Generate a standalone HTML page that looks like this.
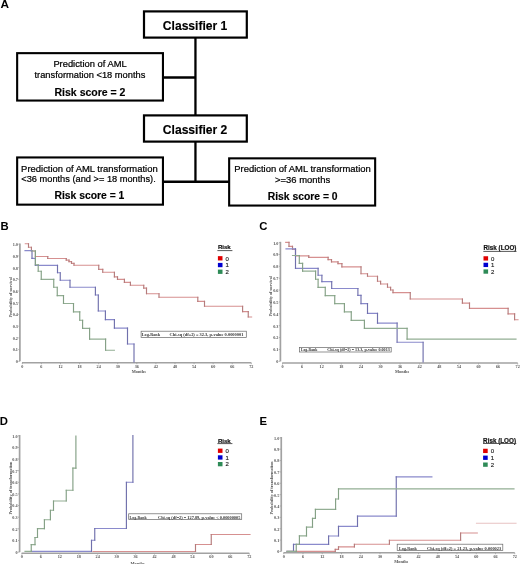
<!DOCTYPE html>
<html><head><meta charset="utf-8"><title>Figure</title>
<style>
html,body{margin:0;padding:0;background:#fff;}
body{width:520px;height:564px;overflow:hidden;}
svg{display:block;will-change:transform;filter:blur(0.3px);}
</style></head>
<body>
<svg width="520" height="564" viewBox="0 0 520 564">
<rect x="0" y="0" width="520" height="564" fill="#fff"/>
<text x="0.5" y="8.4" font-family='"Liberation Sans", sans-serif' font-size="11.8" font-weight="bold" text-anchor="start" fill="#000" >A</text>
<rect x="144.00" y="11.40" width="102.80" height="26.20" fill="none" stroke="#000" stroke-width="2.2"/>
<text x="195.1" y="29.6" font-family='"Liberation Sans", sans-serif' font-size="12.1" font-weight="bold" text-anchor="middle" fill="#000" stroke="#000" stroke-width="0.15">Classifier 1</text>
<line x1="195.45" y1="38.0" x2="195.45" y2="115.0" stroke="#000" stroke-width="2.3"/>
<rect x="17.15" y="53.15" width="145.80" height="47.40" fill="none" stroke="#000" stroke-width="2.1"/>
<line x1="163.0" y1="77.5" x2="195.45" y2="77.5" stroke="#000" stroke-width="2.3"/>
<text x="90.0" y="67.1" font-family='"Liberation Sans", sans-serif' font-size="9.35" font-weight="normal" text-anchor="middle" fill="#000" stroke="#000" stroke-width="0.22">Prediction of AML</text>
<text x="89.9" y="78.2" font-family='"Liberation Sans", sans-serif' font-size="9.3" font-weight="normal" text-anchor="middle" fill="#000" stroke="#000" stroke-width="0.22">transformation &lt;18 months</text>
<text x="90.0" y="95.6" font-family='"Liberation Sans", sans-serif' font-size="10.5" font-weight="bold" text-anchor="middle" fill="#000" stroke="#000" stroke-width="0.15">Risk score = 2</text>
<rect x="144.00" y="115.40" width="102.80" height="26.20" fill="none" stroke="#000" stroke-width="2.2"/>
<text x="195.1" y="133.6" font-family='"Liberation Sans", sans-serif' font-size="12.1" font-weight="bold" text-anchor="middle" fill="#000" stroke="#000" stroke-width="0.15">Classifier 2</text>
<line x1="195.45" y1="142.0" x2="195.45" y2="181.7" stroke="#000" stroke-width="2.3"/>
<line x1="163.0" y1="181.7" x2="229.0" y2="181.7" stroke="#000" stroke-width="2.4"/>
<rect x="17.15" y="157.45" width="145.80" height="47.20" fill="none" stroke="#000" stroke-width="2.1"/>
<text x="89.4" y="171.5" font-family='"Liberation Sans", sans-serif' font-size="9.45" font-weight="normal" text-anchor="middle" fill="#000" stroke="#000" stroke-width="0.22">Prediction of AML transformation</text>
<text x="88.5" y="182.3" font-family='"Liberation Sans", sans-serif' font-size="9.25" font-weight="normal" text-anchor="middle" fill="#000" stroke="#000" stroke-width="0.22">&lt;36 months (and &gt;= 18 months).</text>
<text x="89.4" y="199.2" font-family='"Liberation Sans", sans-serif' font-size="10.35" font-weight="bold" text-anchor="middle" fill="#000" stroke="#000" stroke-width="0.15">Risk score = 1</text>
<rect x="229.15" y="158.35" width="146.00" height="47.20" fill="none" stroke="#000" stroke-width="2.1"/>
<text x="302.5" y="172.2" font-family='"Liberation Sans", sans-serif' font-size="9.45" font-weight="normal" text-anchor="middle" fill="#000" stroke="#000" stroke-width="0.22">Prediction of AML transformation</text>
<text x="302.6" y="183.2" font-family='"Liberation Sans", sans-serif' font-size="9.45" font-weight="normal" text-anchor="middle" fill="#000" stroke="#000" stroke-width="0.22">&gt;=36 months</text>
<text x="302.7" y="199.8" font-family='"Liberation Sans", sans-serif' font-size="10.35" font-weight="bold" text-anchor="middle" fill="#000" stroke="#000" stroke-width="0.15">Risk score = 0</text>
<line x1="19.9" y1="243.39999999999998" x2="19.9" y2="361.3" stroke="#a2a2a2" stroke-width="1.7"/>
<line x1="22.0" y1="362.8" x2="251.32000000000002" y2="362.8" stroke="#a2a2a2" stroke-width="1.5"/>
<line x1="18.299999999999997" y1="361.3" x2="19.9" y2="361.3" stroke="#a2a2a2" stroke-width="0.8"/>
<text x="17.9" y="363.2" font-family='"Liberation Serif", serif' font-size="4.2" font-weight="bold" text-anchor="end" fill="#555" >0</text>
<line x1="18.299999999999997" y1="349.59000000000003" x2="19.9" y2="349.59000000000003" stroke="#a2a2a2" stroke-width="0.8"/>
<text x="17.9" y="351.49" font-family='"Liberation Serif", serif' font-size="4.2" font-weight="bold" text-anchor="end" fill="#555" >0.1</text>
<line x1="18.299999999999997" y1="337.88" x2="19.9" y2="337.88" stroke="#a2a2a2" stroke-width="0.8"/>
<text x="17.9" y="339.78" font-family='"Liberation Serif", serif' font-size="4.2" font-weight="bold" text-anchor="end" fill="#555" >0.2</text>
<line x1="18.299999999999997" y1="326.17" x2="19.9" y2="326.17" stroke="#a2a2a2" stroke-width="0.8"/>
<text x="17.9" y="328.07" font-family='"Liberation Serif", serif' font-size="4.2" font-weight="bold" text-anchor="end" fill="#555" >0.3</text>
<line x1="18.299999999999997" y1="314.46" x2="19.9" y2="314.46" stroke="#a2a2a2" stroke-width="0.8"/>
<text x="17.9" y="316.35999999999996" font-family='"Liberation Serif", serif' font-size="4.2" font-weight="bold" text-anchor="end" fill="#555" >0.4</text>
<line x1="18.299999999999997" y1="302.75" x2="19.9" y2="302.75" stroke="#a2a2a2" stroke-width="0.8"/>
<text x="17.9" y="304.65" font-family='"Liberation Serif", serif' font-size="4.2" font-weight="bold" text-anchor="end" fill="#555" >0.5</text>
<line x1="18.299999999999997" y1="291.04" x2="19.9" y2="291.04" stroke="#a2a2a2" stroke-width="0.8"/>
<text x="17.9" y="292.94" font-family='"Liberation Serif", serif' font-size="4.2" font-weight="bold" text-anchor="end" fill="#555" >0.6</text>
<line x1="18.299999999999997" y1="279.33" x2="19.9" y2="279.33" stroke="#a2a2a2" stroke-width="0.8"/>
<text x="17.9" y="281.22999999999996" font-family='"Liberation Serif", serif' font-size="4.2" font-weight="bold" text-anchor="end" fill="#555" >0.7</text>
<line x1="18.299999999999997" y1="267.62" x2="19.9" y2="267.62" stroke="#a2a2a2" stroke-width="0.8"/>
<text x="17.9" y="269.52" font-family='"Liberation Serif", serif' font-size="4.2" font-weight="bold" text-anchor="end" fill="#555" >0.8</text>
<line x1="18.299999999999997" y1="255.90999999999997" x2="19.9" y2="255.90999999999997" stroke="#a2a2a2" stroke-width="0.8"/>
<text x="17.9" y="257.80999999999995" font-family='"Liberation Serif", serif' font-size="4.2" font-weight="bold" text-anchor="end" fill="#555" >0.9</text>
<line x1="18.299999999999997" y1="244.2" x2="19.9" y2="244.2" stroke="#a2a2a2" stroke-width="0.8"/>
<text x="17.9" y="246.1" font-family='"Liberation Serif", serif' font-size="4.2" font-weight="bold" text-anchor="end" fill="#555" >1.0</text>
<line x1="22.3" y1="362.8" x2="22.3" y2="364.2" stroke="#a2a2a2" stroke-width="0.8"/>
<text x="22.3" y="367.90000000000003" font-family='"Liberation Serif", serif' font-size="4.2" font-weight="bold" text-anchor="middle" fill="#555" >0</text>
<line x1="41.385000000000005" y1="362.8" x2="41.385000000000005" y2="364.2" stroke="#a2a2a2" stroke-width="0.8"/>
<text x="41.385000000000005" y="367.90000000000003" font-family='"Liberation Serif", serif' font-size="4.2" font-weight="bold" text-anchor="middle" fill="#555" >6</text>
<line x1="60.47" y1="362.8" x2="60.47" y2="364.2" stroke="#a2a2a2" stroke-width="0.8"/>
<text x="60.47" y="367.90000000000003" font-family='"Liberation Serif", serif' font-size="4.2" font-weight="bold" text-anchor="middle" fill="#555" >12</text>
<line x1="79.555" y1="362.8" x2="79.555" y2="364.2" stroke="#a2a2a2" stroke-width="0.8"/>
<text x="79.555" y="367.90000000000003" font-family='"Liberation Serif", serif' font-size="4.2" font-weight="bold" text-anchor="middle" fill="#555" >18</text>
<line x1="98.64" y1="362.8" x2="98.64" y2="364.2" stroke="#a2a2a2" stroke-width="0.8"/>
<text x="98.64" y="367.90000000000003" font-family='"Liberation Serif", serif' font-size="4.2" font-weight="bold" text-anchor="middle" fill="#555" >24</text>
<line x1="117.72500000000001" y1="362.8" x2="117.72500000000001" y2="364.2" stroke="#a2a2a2" stroke-width="0.8"/>
<text x="117.72500000000001" y="367.90000000000003" font-family='"Liberation Serif", serif' font-size="4.2" font-weight="bold" text-anchor="middle" fill="#555" >30</text>
<line x1="136.81" y1="362.8" x2="136.81" y2="364.2" stroke="#a2a2a2" stroke-width="0.8"/>
<text x="136.81" y="367.90000000000003" font-family='"Liberation Serif", serif' font-size="4.2" font-weight="bold" text-anchor="middle" fill="#555" >36</text>
<line x1="155.895" y1="362.8" x2="155.895" y2="364.2" stroke="#a2a2a2" stroke-width="0.8"/>
<text x="155.895" y="367.90000000000003" font-family='"Liberation Serif", serif' font-size="4.2" font-weight="bold" text-anchor="middle" fill="#555" >42</text>
<line x1="174.98000000000002" y1="362.8" x2="174.98000000000002" y2="364.2" stroke="#a2a2a2" stroke-width="0.8"/>
<text x="174.98000000000002" y="367.90000000000003" font-family='"Liberation Serif", serif' font-size="4.2" font-weight="bold" text-anchor="middle" fill="#555" >48</text>
<line x1="194.06500000000003" y1="362.8" x2="194.06500000000003" y2="364.2" stroke="#a2a2a2" stroke-width="0.8"/>
<text x="194.06500000000003" y="367.90000000000003" font-family='"Liberation Serif", serif' font-size="4.2" font-weight="bold" text-anchor="middle" fill="#555" >54</text>
<line x1="213.15000000000003" y1="362.8" x2="213.15000000000003" y2="364.2" stroke="#a2a2a2" stroke-width="0.8"/>
<text x="213.15000000000003" y="367.90000000000003" font-family='"Liberation Serif", serif' font-size="4.2" font-weight="bold" text-anchor="middle" fill="#555" >60</text>
<line x1="232.235" y1="362.8" x2="232.235" y2="364.2" stroke="#a2a2a2" stroke-width="0.8"/>
<text x="232.235" y="367.90000000000003" font-family='"Liberation Serif", serif' font-size="4.2" font-weight="bold" text-anchor="middle" fill="#555" >66</text>
<line x1="251.32000000000002" y1="362.8" x2="251.32000000000002" y2="364.2" stroke="#a2a2a2" stroke-width="0.8"/>
<text x="251.32000000000002" y="367.90000000000003" font-family='"Liberation Serif", serif' font-size="4.2" font-weight="bold" text-anchor="middle" fill="#555" >72</text>
<text x="138.81" y="373.0" font-family='"Liberation Serif", serif' font-size="4.3" font-weight="bold" text-anchor="middle" fill="#555" >Months</text>
<text x="0" y="0" transform="translate(11.8,297.2) rotate(-90)" font-family='"Liberation Serif", serif' font-size="4.2" font-weight="bold" text-anchor="middle" fill="#555">Probability of survival</text>
<text x="217.9" y="249.2" font-family='"Liberation Sans", sans-serif' font-size="6.1" font-weight="bold" text-anchor="start" fill="#111" stroke="#111" stroke-width="0.18">Risk</text>
<line x1="217.4" y1="250.6" x2="232.4" y2="250.6" stroke="#444" stroke-width="0.9"/>
<rect x="217.9" y="256.15" width="4.6" height="4.3" fill="#e00000"/>
<text x="225.5" y="260.54999999999995" font-family='"Liberation Sans", sans-serif' font-size="6.0" font-weight="normal" text-anchor="start" fill="#222" stroke="#222" stroke-width="0.15">0</text>
<rect x="217.9" y="262.9" width="4.6" height="4.3" fill="#0000d0"/>
<text x="225.5" y="267.29999999999995" font-family='"Liberation Sans", sans-serif' font-size="6.0" font-weight="normal" text-anchor="start" fill="#222" stroke="#222" stroke-width="0.15">1</text>
<rect x="217.9" y="269.6" width="4.6" height="4.3" fill="#2e8b57"/>
<text x="225.5" y="274.0" font-family='"Liberation Sans", sans-serif' font-size="6.0" font-weight="normal" text-anchor="start" fill="#222" stroke="#222" stroke-width="0.15">2</text>
<rect x="141.1" y="331.2" width="105.20" height="6.20" fill="#fff" stroke="#666" stroke-width="0.7"/>
<text x="141.8" y="336.4" font-family='"Liberation Serif", serif' font-size="5.0" font-weight="bold" text-anchor="start" fill="#333" textLength="18.20" lengthAdjust="spacingAndGlyphs">Log-Rank</text>
<text x="169.6" y="336.4" font-family='"Liberation Serif", serif' font-size="5.0" font-weight="bold" text-anchor="start" fill="#333" textLength="73.80" lengthAdjust="spacingAndGlyphs">Chi-sq (df=2) = 32.3, p-value 0.0000001</text>
<text x="0.4" y="229.8" font-family='"Liberation Sans", sans-serif' font-size="11.3" font-weight="bold" text-anchor="start" fill="#000" >B</text>
<path d="M25.30 243.70H28.50 M28.50 247.20H31.40 M31.40 251.00H35.40 M35.40 256.50H47.75 M47.75 258.50H66.25 M66.25 260.10H69.00 M69.00 261.60H71.50 M71.50 263.30H74.00 M74.00 265.25H98.75 M98.75 269.40H102.75 M102.75 272.25H114.40 M114.40 276.90H117.50 M117.50 279.40H124.40 M124.40 282.40H130.40 M130.40 285.25H143.75 M143.75 288.10H146.50 M146.50 293.75H159.00 M159.00 297.25H197.80 M197.80 301.30H204.50 M204.50 306.25H242.60 M242.60 311.60H248.25 M248.25 317.00H251.60" fill="none" stroke="#d69090" stroke-width="1.15" stroke-opacity="1" stroke-linecap="square"/>
<path d="M28.50 243.70V247.20 M31.40 247.20V251.00 M35.40 251.00V256.50 M47.75 256.50V258.50 M66.25 258.50V260.10 M69.00 260.10V261.60 M71.50 261.60V263.30 M74.00 263.30V265.25 M98.75 265.25V269.40 M102.75 269.40V272.25 M114.40 272.25V276.90 M117.50 276.90V279.40 M124.40 279.40V282.40 M130.40 282.40V285.25 M143.75 285.25V288.10 M146.50 288.10V293.75 M159.00 293.75V297.25 M197.80 297.25V301.30 M204.50 301.30V306.25 M242.60 306.25V311.60 M248.25 311.60V317.00" fill="none" stroke="#b47c7c" stroke-width="1.15" stroke-opacity="1" stroke-linecap="square"/>
<path d="M25.00 250.60H32.00 M32.00 258.35H35.40 M35.40 265.30H57.50 M57.50 272.75H60.25 M60.25 280.25H70.00 M70.00 287.25H95.40 M95.40 295.00H98.30 M98.30 311.00H105.40 M105.40 319.60H114.40 M114.40 328.10H127.50 M127.50 344.00H134.00" fill="none" stroke="#8a8acc" stroke-width="1.15" stroke-opacity="1" stroke-linecap="square"/>
<path d="M32.00 250.60V258.35 M35.40 258.35V265.30 M57.50 265.30V272.75 M60.25 272.75V280.25 M70.00 280.25V287.25 M95.40 287.25V295.00 M98.30 295.00V311.00 M105.40 311.00V319.60 M114.40 319.60V328.10 M127.50 328.10V344.00 M134.00 344.00V362.00" fill="none" stroke="#7070ac" stroke-width="1.15" stroke-opacity="1" stroke-linecap="square"/>
<path d="M31.40 251.00H35.40 M35.40 264.70H38.20 M38.20 271.25H41.25 M41.25 279.40H53.75 M53.75 287.25H57.25 M57.25 295.60H63.50 M63.50 303.50H73.50 M73.50 311.90H79.75 M79.75 320.25H82.60 M82.60 328.30H89.60 M89.60 339.10H105.60 M105.60 350.25H114.40" fill="none" stroke="#93ae94" stroke-width="1.15" stroke-opacity="1" stroke-linecap="square"/>
<path d="M35.40 251.00V264.70 M38.20 264.70V271.25 M41.25 271.25V279.40 M53.75 279.40V287.25 M57.25 287.25V295.60 M63.50 295.60V303.50 M73.50 303.50V311.90 M79.75 311.90V320.25 M82.60 320.25V328.30 M89.60 328.30V339.10 M105.60 339.10V350.25" fill="none" stroke="#84a085" stroke-width="1.15" stroke-opacity="1" stroke-linecap="square"/>
<line x1="280.4" y1="241.79999999999998" x2="280.4" y2="361.3" stroke="#a2a2a2" stroke-width="1.7"/>
<line x1="282.2" y1="363.1" x2="517.7" y2="363.1" stroke="#a2a2a2" stroke-width="1.5"/>
<line x1="278.79999999999995" y1="361.3" x2="280.4" y2="361.3" stroke="#a2a2a2" stroke-width="0.8"/>
<text x="278.4" y="363.2" font-family='"Liberation Serif", serif' font-size="4.2" font-weight="bold" text-anchor="end" fill="#555" >0</text>
<line x1="278.79999999999995" y1="349.43" x2="280.4" y2="349.43" stroke="#a2a2a2" stroke-width="0.8"/>
<text x="278.4" y="351.33" font-family='"Liberation Serif", serif' font-size="4.2" font-weight="bold" text-anchor="end" fill="#555" >0.1</text>
<line x1="278.79999999999995" y1="337.56" x2="280.4" y2="337.56" stroke="#a2a2a2" stroke-width="0.8"/>
<text x="278.4" y="339.46" font-family='"Liberation Serif", serif' font-size="4.2" font-weight="bold" text-anchor="end" fill="#555" >0.2</text>
<line x1="278.79999999999995" y1="325.69" x2="280.4" y2="325.69" stroke="#a2a2a2" stroke-width="0.8"/>
<text x="278.4" y="327.59" font-family='"Liberation Serif", serif' font-size="4.2" font-weight="bold" text-anchor="end" fill="#555" >0.3</text>
<line x1="278.79999999999995" y1="313.82" x2="280.4" y2="313.82" stroke="#a2a2a2" stroke-width="0.8"/>
<text x="278.4" y="315.71999999999997" font-family='"Liberation Serif", serif' font-size="4.2" font-weight="bold" text-anchor="end" fill="#555" >0.4</text>
<line x1="278.79999999999995" y1="301.95" x2="280.4" y2="301.95" stroke="#a2a2a2" stroke-width="0.8"/>
<text x="278.4" y="303.84999999999997" font-family='"Liberation Serif", serif' font-size="4.2" font-weight="bold" text-anchor="end" fill="#555" >0.5</text>
<line x1="278.79999999999995" y1="290.08" x2="280.4" y2="290.08" stroke="#a2a2a2" stroke-width="0.8"/>
<text x="278.4" y="291.97999999999996" font-family='"Liberation Serif", serif' font-size="4.2" font-weight="bold" text-anchor="end" fill="#555" >0.6</text>
<line x1="278.79999999999995" y1="278.21000000000004" x2="280.4" y2="278.21000000000004" stroke="#a2a2a2" stroke-width="0.8"/>
<text x="278.4" y="280.11" font-family='"Liberation Serif", serif' font-size="4.2" font-weight="bold" text-anchor="end" fill="#555" >0.7</text>
<line x1="278.79999999999995" y1="266.34" x2="280.4" y2="266.34" stroke="#a2a2a2" stroke-width="0.8"/>
<text x="278.4" y="268.23999999999995" font-family='"Liberation Serif", serif' font-size="4.2" font-weight="bold" text-anchor="end" fill="#555" >0.8</text>
<line x1="278.79999999999995" y1="254.47" x2="280.4" y2="254.47" stroke="#a2a2a2" stroke-width="0.8"/>
<text x="278.4" y="256.37" font-family='"Liberation Serif", serif' font-size="4.2" font-weight="bold" text-anchor="end" fill="#555" >0.9</text>
<line x1="278.79999999999995" y1="242.6" x2="280.4" y2="242.6" stroke="#a2a2a2" stroke-width="0.8"/>
<text x="278.4" y="244.5" font-family='"Liberation Serif", serif' font-size="4.2" font-weight="bold" text-anchor="end" fill="#555" >1.0</text>
<line x1="282.5" y1="363.1" x2="282.5" y2="364.5" stroke="#a2a2a2" stroke-width="0.8"/>
<text x="282.5" y="368.20000000000005" font-family='"Liberation Serif", serif' font-size="4.2" font-weight="bold" text-anchor="middle" fill="#555" >0</text>
<line x1="302.1" y1="363.1" x2="302.1" y2="364.5" stroke="#a2a2a2" stroke-width="0.8"/>
<text x="302.1" y="368.20000000000005" font-family='"Liberation Serif", serif' font-size="4.2" font-weight="bold" text-anchor="middle" fill="#555" >6</text>
<line x1="321.7" y1="363.1" x2="321.7" y2="364.5" stroke="#a2a2a2" stroke-width="0.8"/>
<text x="321.7" y="368.20000000000005" font-family='"Liberation Serif", serif' font-size="4.2" font-weight="bold" text-anchor="middle" fill="#555" >12</text>
<line x1="341.3" y1="363.1" x2="341.3" y2="364.5" stroke="#a2a2a2" stroke-width="0.8"/>
<text x="341.3" y="368.20000000000005" font-family='"Liberation Serif", serif' font-size="4.2" font-weight="bold" text-anchor="middle" fill="#555" >18</text>
<line x1="360.9" y1="363.1" x2="360.9" y2="364.5" stroke="#a2a2a2" stroke-width="0.8"/>
<text x="360.9" y="368.20000000000005" font-family='"Liberation Serif", serif' font-size="4.2" font-weight="bold" text-anchor="middle" fill="#555" >24</text>
<line x1="380.5" y1="363.1" x2="380.5" y2="364.5" stroke="#a2a2a2" stroke-width="0.8"/>
<text x="380.5" y="368.20000000000005" font-family='"Liberation Serif", serif' font-size="4.2" font-weight="bold" text-anchor="middle" fill="#555" >30</text>
<line x1="400.1" y1="363.1" x2="400.1" y2="364.5" stroke="#a2a2a2" stroke-width="0.8"/>
<text x="400.1" y="368.20000000000005" font-family='"Liberation Serif", serif' font-size="4.2" font-weight="bold" text-anchor="middle" fill="#555" >36</text>
<line x1="419.70000000000005" y1="363.1" x2="419.70000000000005" y2="364.5" stroke="#a2a2a2" stroke-width="0.8"/>
<text x="419.70000000000005" y="368.20000000000005" font-family='"Liberation Serif", serif' font-size="4.2" font-weight="bold" text-anchor="middle" fill="#555" >42</text>
<line x1="439.3" y1="363.1" x2="439.3" y2="364.5" stroke="#a2a2a2" stroke-width="0.8"/>
<text x="439.3" y="368.20000000000005" font-family='"Liberation Serif", serif' font-size="4.2" font-weight="bold" text-anchor="middle" fill="#555" >48</text>
<line x1="458.9" y1="363.1" x2="458.9" y2="364.5" stroke="#a2a2a2" stroke-width="0.8"/>
<text x="458.9" y="368.20000000000005" font-family='"Liberation Serif", serif' font-size="4.2" font-weight="bold" text-anchor="middle" fill="#555" >54</text>
<line x1="478.5" y1="363.1" x2="478.5" y2="364.5" stroke="#a2a2a2" stroke-width="0.8"/>
<text x="478.5" y="368.20000000000005" font-family='"Liberation Serif", serif' font-size="4.2" font-weight="bold" text-anchor="middle" fill="#555" >60</text>
<line x1="498.1" y1="363.1" x2="498.1" y2="364.5" stroke="#a2a2a2" stroke-width="0.8"/>
<text x="498.1" y="368.20000000000005" font-family='"Liberation Serif", serif' font-size="4.2" font-weight="bold" text-anchor="middle" fill="#555" >66</text>
<line x1="517.7" y1="363.1" x2="517.7" y2="364.5" stroke="#a2a2a2" stroke-width="0.8"/>
<text x="517.7" y="368.20000000000005" font-family='"Liberation Serif", serif' font-size="4.2" font-weight="bold" text-anchor="middle" fill="#555" >72</text>
<text x="402.1" y="373.0" font-family='"Liberation Serif", serif' font-size="4.3" font-weight="bold" text-anchor="middle" fill="#555" >Months</text>
<text x="0" y="0" transform="translate(272.0,296.2) rotate(-90)" font-family='"Liberation Serif", serif' font-size="4.2" font-weight="bold" text-anchor="middle" fill="#555">Probability of survival</text>
<text x="483.5" y="249.75" font-family='"Liberation Sans", sans-serif' font-size="6.3" font-weight="bold" text-anchor="start" fill="#111" stroke="#111" stroke-width="0.18">Risk (LOO)</text>
<line x1="483.3" y1="251.4" x2="516.5" y2="251.4" stroke="#444" stroke-width="0.9"/>
<rect x="483.5" y="256.25" width="4.6" height="4.3" fill="#e00000"/>
<text x="491.1" y="260.65" font-family='"Liberation Sans", sans-serif' font-size="6.0" font-weight="normal" text-anchor="start" fill="#222" stroke="#222" stroke-width="0.15">0</text>
<rect x="483.5" y="262.75" width="4.6" height="4.3" fill="#0000d0"/>
<text x="491.1" y="267.15" font-family='"Liberation Sans", sans-serif' font-size="6.0" font-weight="normal" text-anchor="start" fill="#222" stroke="#222" stroke-width="0.15">1</text>
<rect x="483.5" y="269.4" width="4.6" height="4.3" fill="#2e8b57"/>
<text x="491.1" y="273.79999999999995" font-family='"Liberation Sans", sans-serif' font-size="6.0" font-weight="normal" text-anchor="start" fill="#222" stroke="#222" stroke-width="0.15">2</text>
<rect x="299.5" y="347.5" width="91.70" height="4.50" fill="#fff" stroke="#666" stroke-width="0.7"/>
<text x="300.9" y="351.4" font-family='"Liberation Serif", serif' font-size="4.3" font-weight="bold" text-anchor="start" fill="#333" textLength="16.40" lengthAdjust="spacingAndGlyphs">Log-Rank</text>
<text x="327.2" y="351.4" font-family='"Liberation Serif", serif' font-size="4.3" font-weight="bold" text-anchor="start" fill="#333" textLength="62.60" lengthAdjust="spacingAndGlyphs">Chi-sq (df=2) = 13.3, p-value 0.0013</text>
<text x="259.3" y="229.8" font-family='"Liberation Sans", sans-serif' font-size="11.3" font-weight="bold" text-anchor="start" fill="#000" >C</text>
<path d="M285.70 242.30H289.00 M289.00 246.40H292.50 M292.50 249.40H295.50 M295.50 255.80H308.75 M308.75 257.40H328.10 M328.10 259.60H331.50 M331.50 261.90H338.00 M338.00 263.60H341.90 M341.90 266.90H361.00 M361.00 273.75H367.50 M367.50 276.25H377.50 M377.50 281.25H380.60 M380.60 284.00H387.50 M387.50 287.25H390.60 M390.60 290.00H393.00 M393.00 292.60H410.25 M410.25 299.00H462.40 M462.40 303.10H469.50 M469.50 308.30H508.10 M508.10 313.90H514.60 M514.60 319.70H518.00" fill="none" stroke="#d69090" stroke-width="1.15" stroke-opacity="1" stroke-linecap="square"/>
<path d="M289.00 242.30V246.40 M292.50 246.40V249.40 M295.50 249.40V255.80 M308.75 255.80V257.40 M328.10 257.40V259.60 M331.50 259.60V261.90 M338.00 261.90V263.60 M341.90 263.60V266.90 M361.00 266.90V273.75 M367.50 273.75V276.25 M377.50 276.25V281.25 M380.60 281.25V284.00 M387.50 284.00V287.25 M390.60 287.25V290.00 M393.00 290.00V292.60 M410.25 292.60V299.00 M462.40 299.00V303.10 M469.50 303.10V308.30 M508.10 308.30V313.90 M514.60 313.90V319.70" fill="none" stroke="#b47c7c" stroke-width="1.15" stroke-opacity="1" stroke-linecap="square"/>
<path d="M286.00 248.80H295.50 M295.50 268.40H318.10 M318.10 275.25H321.90 M321.90 281.60H331.70 M331.70 288.50H357.90 M357.90 295.40H361.00 M361.00 303.60H367.50 M367.50 313.30H377.50 M377.50 323.10H397.10 M397.10 342.25H423.10" fill="none" stroke="#8a8acc" stroke-width="1.15" stroke-opacity="1" stroke-linecap="square"/>
<path d="M295.50 248.80V268.40 M318.10 268.40V275.25 M321.90 275.25V281.60 M331.70 281.60V288.50 M357.90 288.50V295.40 M361.00 295.40V303.60 M367.50 303.60V313.30 M377.50 313.30V323.10 M397.10 323.10V342.25 M423.10 342.25V362.00" fill="none" stroke="#7070ac" stroke-width="1.15" stroke-opacity="1" stroke-linecap="square"/>
<path d="M292.50 255.50H299.30 M299.30 263.40H302.60 M302.60 271.10H315.60 M315.60 279.25H318.10 M318.10 287.30H325.25 M325.25 295.60H334.75 M334.75 303.60H344.40 M344.40 311.90H351.25 M351.25 320.40H364.40 M364.40 328.30H407.10 M407.10 339.10H516.00" fill="none" stroke="#93ae94" stroke-width="1.15" stroke-opacity="1" stroke-linecap="square"/>
<path d="M299.30 255.50V263.40 M302.60 263.40V271.10 M315.60 271.10V279.25 M318.10 279.25V287.30 M325.25 287.30V295.60 M334.75 295.60V303.60 M344.40 303.60V311.90 M351.25 311.90V320.40 M364.40 320.40V328.30 M407.10 328.30V339.10" fill="none" stroke="#84a085" stroke-width="1.15" stroke-opacity="1" stroke-linecap="square"/>
<line x1="19.6" y1="435.0" x2="19.6" y2="552.1" stroke="#a2a2a2" stroke-width="1.7"/>
<line x1="21.599999999999998" y1="553.2" x2="249.29999999999998" y2="553.2" stroke="#a2a2a2" stroke-width="1.5"/>
<line x1="18.0" y1="552.1" x2="19.6" y2="552.1" stroke="#a2a2a2" stroke-width="0.8"/>
<text x="17.6" y="554.0" font-family='"Liberation Serif", serif' font-size="4.2" font-weight="bold" text-anchor="end" fill="#555" >0</text>
<line x1="18.0" y1="540.47" x2="19.6" y2="540.47" stroke="#a2a2a2" stroke-width="0.8"/>
<text x="17.6" y="542.37" font-family='"Liberation Serif", serif' font-size="4.2" font-weight="bold" text-anchor="end" fill="#555" >0.1</text>
<line x1="18.0" y1="528.84" x2="19.6" y2="528.84" stroke="#a2a2a2" stroke-width="0.8"/>
<text x="17.6" y="530.74" font-family='"Liberation Serif", serif' font-size="4.2" font-weight="bold" text-anchor="end" fill="#555" >0.2</text>
<line x1="18.0" y1="517.21" x2="19.6" y2="517.21" stroke="#a2a2a2" stroke-width="0.8"/>
<text x="17.6" y="519.11" font-family='"Liberation Serif", serif' font-size="4.2" font-weight="bold" text-anchor="end" fill="#555" >0.3</text>
<line x1="18.0" y1="505.58000000000004" x2="19.6" y2="505.58000000000004" stroke="#a2a2a2" stroke-width="0.8"/>
<text x="17.6" y="507.48" font-family='"Liberation Serif", serif' font-size="4.2" font-weight="bold" text-anchor="end" fill="#555" >0.4</text>
<line x1="18.0" y1="493.95000000000005" x2="19.6" y2="493.95000000000005" stroke="#a2a2a2" stroke-width="0.8"/>
<text x="17.6" y="495.85" font-family='"Liberation Serif", serif' font-size="4.2" font-weight="bold" text-anchor="end" fill="#555" >0.5</text>
<line x1="18.0" y1="482.32000000000005" x2="19.6" y2="482.32000000000005" stroke="#a2a2a2" stroke-width="0.8"/>
<text x="17.6" y="484.22" font-family='"Liberation Serif", serif' font-size="4.2" font-weight="bold" text-anchor="end" fill="#555" >0.6</text>
<line x1="18.0" y1="470.69000000000005" x2="19.6" y2="470.69000000000005" stroke="#a2a2a2" stroke-width="0.8"/>
<text x="17.6" y="472.59000000000003" font-family='"Liberation Serif", serif' font-size="4.2" font-weight="bold" text-anchor="end" fill="#555" >0.7</text>
<line x1="18.0" y1="459.06" x2="19.6" y2="459.06" stroke="#a2a2a2" stroke-width="0.8"/>
<text x="17.6" y="460.96" font-family='"Liberation Serif", serif' font-size="4.2" font-weight="bold" text-anchor="end" fill="#555" >0.8</text>
<line x1="18.0" y1="447.43" x2="19.6" y2="447.43" stroke="#a2a2a2" stroke-width="0.8"/>
<text x="17.6" y="449.33" font-family='"Liberation Serif", serif' font-size="4.2" font-weight="bold" text-anchor="end" fill="#555" >0.9</text>
<line x1="18.0" y1="435.8" x2="19.6" y2="435.8" stroke="#a2a2a2" stroke-width="0.8"/>
<text x="17.6" y="437.7" font-family='"Liberation Serif", serif' font-size="4.2" font-weight="bold" text-anchor="end" fill="#555" >1.0</text>
<line x1="21.9" y1="553.2" x2="21.9" y2="554.6" stroke="#a2a2a2" stroke-width="0.8"/>
<text x="21.9" y="558.3000000000001" font-family='"Liberation Serif", serif' font-size="4.2" font-weight="bold" text-anchor="middle" fill="#555" >0</text>
<line x1="40.849999999999994" y1="553.2" x2="40.849999999999994" y2="554.6" stroke="#a2a2a2" stroke-width="0.8"/>
<text x="40.849999999999994" y="558.3000000000001" font-family='"Liberation Serif", serif' font-size="4.2" font-weight="bold" text-anchor="middle" fill="#555" >6</text>
<line x1="59.8" y1="553.2" x2="59.8" y2="554.6" stroke="#a2a2a2" stroke-width="0.8"/>
<text x="59.8" y="558.3000000000001" font-family='"Liberation Serif", serif' font-size="4.2" font-weight="bold" text-anchor="middle" fill="#555" >12</text>
<line x1="78.75" y1="553.2" x2="78.75" y2="554.6" stroke="#a2a2a2" stroke-width="0.8"/>
<text x="78.75" y="558.3000000000001" font-family='"Liberation Serif", serif' font-size="4.2" font-weight="bold" text-anchor="middle" fill="#555" >18</text>
<line x1="97.69999999999999" y1="553.2" x2="97.69999999999999" y2="554.6" stroke="#a2a2a2" stroke-width="0.8"/>
<text x="97.69999999999999" y="558.3000000000001" font-family='"Liberation Serif", serif' font-size="4.2" font-weight="bold" text-anchor="middle" fill="#555" >24</text>
<line x1="116.65" y1="553.2" x2="116.65" y2="554.6" stroke="#a2a2a2" stroke-width="0.8"/>
<text x="116.65" y="558.3000000000001" font-family='"Liberation Serif", serif' font-size="4.2" font-weight="bold" text-anchor="middle" fill="#555" >30</text>
<line x1="135.6" y1="553.2" x2="135.6" y2="554.6" stroke="#a2a2a2" stroke-width="0.8"/>
<text x="135.6" y="558.3000000000001" font-family='"Liberation Serif", serif' font-size="4.2" font-weight="bold" text-anchor="middle" fill="#555" >36</text>
<line x1="154.55" y1="553.2" x2="154.55" y2="554.6" stroke="#a2a2a2" stroke-width="0.8"/>
<text x="154.55" y="558.3000000000001" font-family='"Liberation Serif", serif' font-size="4.2" font-weight="bold" text-anchor="middle" fill="#555" >42</text>
<line x1="173.5" y1="553.2" x2="173.5" y2="554.6" stroke="#a2a2a2" stroke-width="0.8"/>
<text x="173.5" y="558.3000000000001" font-family='"Liberation Serif", serif' font-size="4.2" font-weight="bold" text-anchor="middle" fill="#555" >48</text>
<line x1="192.45" y1="553.2" x2="192.45" y2="554.6" stroke="#a2a2a2" stroke-width="0.8"/>
<text x="192.45" y="558.3000000000001" font-family='"Liberation Serif", serif' font-size="4.2" font-weight="bold" text-anchor="middle" fill="#555" >54</text>
<line x1="211.4" y1="553.2" x2="211.4" y2="554.6" stroke="#a2a2a2" stroke-width="0.8"/>
<text x="211.4" y="558.3000000000001" font-family='"Liberation Serif", serif' font-size="4.2" font-weight="bold" text-anchor="middle" fill="#555" >60</text>
<line x1="230.35" y1="553.2" x2="230.35" y2="554.6" stroke="#a2a2a2" stroke-width="0.8"/>
<text x="230.35" y="558.3000000000001" font-family='"Liberation Serif", serif' font-size="4.2" font-weight="bold" text-anchor="middle" fill="#555" >66</text>
<line x1="249.29999999999998" y1="553.2" x2="249.29999999999998" y2="554.6" stroke="#a2a2a2" stroke-width="0.8"/>
<text x="249.29999999999998" y="558.3000000000001" font-family='"Liberation Serif", serif' font-size="4.2" font-weight="bold" text-anchor="middle" fill="#555" >72</text>
<text x="137.6" y="564.6" font-family='"Liberation Serif", serif' font-size="4.3" font-weight="bold" text-anchor="middle" fill="#555" >Months</text>
<text x="0" y="0" transform="translate(11.8,488.1) rotate(-90)" font-family='"Liberation Serif", serif' font-size="4.2" font-weight="bold" text-anchor="middle" fill="#555">Probability of transformation</text>
<text x="217.9" y="442.6" font-family='"Liberation Sans", sans-serif' font-size="6.1" font-weight="bold" text-anchor="start" fill="#111" stroke="#111" stroke-width="0.18">Risk</text>
<line x1="217.4" y1="443.6" x2="232.4" y2="443.6" stroke="#444" stroke-width="0.9"/>
<rect x="217.9" y="448.6" width="4.6" height="4.3" fill="#e00000"/>
<text x="225.5" y="453.0" font-family='"Liberation Sans", sans-serif' font-size="6.0" font-weight="normal" text-anchor="start" fill="#222" stroke="#222" stroke-width="0.15">0</text>
<rect x="217.9" y="455.3" width="4.6" height="4.3" fill="#0000d0"/>
<text x="225.5" y="459.7" font-family='"Liberation Sans", sans-serif' font-size="6.0" font-weight="normal" text-anchor="start" fill="#222" stroke="#222" stroke-width="0.15">1</text>
<rect x="217.9" y="462.0" width="4.6" height="4.3" fill="#2e8b57"/>
<text x="225.5" y="466.4" font-family='"Liberation Sans", sans-serif' font-size="6.0" font-weight="normal" text-anchor="start" fill="#222" stroke="#222" stroke-width="0.15">2</text>
<rect x="128.7" y="513.8" width="113.00" height="5.80" fill="#fff" stroke="#666" stroke-width="0.7"/>
<text x="129.6" y="519.0" font-family='"Liberation Serif", serif' font-size="4.6" font-weight="bold" text-anchor="start" fill="#333" textLength="17.00" lengthAdjust="spacingAndGlyphs">Log-Rank</text>
<text x="158.0" y="519.0" font-family='"Liberation Serif", serif' font-size="4.6" font-weight="bold" text-anchor="start" fill="#333" textLength="82.30" lengthAdjust="spacingAndGlyphs">Chi-sq (df=2) = 127.89, p-value &lt; 0.00000005</text>
<text x="-0.3" y="424.8" font-family='"Liberation Sans", sans-serif' font-size="11.3" font-weight="bold" text-anchor="start" fill="#000" >D</text>
<path d="M31.25 551.30H91.50 M91.50 540.25H94.75 M94.75 528.50H126.40 M126.40 482.25H132.90" fill="none" stroke="#8a8acc" stroke-width="1.15" stroke-opacity="1" stroke-linecap="square"/>
<path d="M91.50 551.30V540.25 M94.75 540.25V528.50 M126.40 528.50V482.25 M132.90 482.25V435.60" fill="none" stroke="#7070ac" stroke-width="1.15" stroke-opacity="1" stroke-linecap="square"/>
<path d="M93.00 551.50H195.50 M195.50 544.50H211.25 M211.25 534.50H250.00" fill="none" stroke="#d69090" stroke-width="1.15" stroke-opacity="1" stroke-linecap="square"/>
<path d="M195.50 551.50V544.50 M211.25 544.50V534.50" fill="none" stroke="#b47c7c" stroke-width="1.15" stroke-opacity="1" stroke-linecap="square"/>
<path d="M25.00 551.30H31.25 M31.25 544.60H35.00 M35.00 537.50H37.50 M37.50 528.60H44.40 M44.40 519.75H50.40 M50.40 510.25H53.50 M53.50 501.00H66.25 M66.25 490.25H72.90 M72.90 468.10H75.90" fill="none" stroke="#93ae94" stroke-width="1.15" stroke-opacity="1" stroke-linecap="square"/>
<path d="M31.25 551.30V544.60 M35.00 544.60V537.50 M37.50 537.50V528.60 M44.40 528.60V519.75 M50.40 519.75V510.25 M53.50 510.25V501.00 M66.25 501.00V490.25 M72.90 490.25V468.10 M75.90 468.10V436.00" fill="none" stroke="#84a085" stroke-width="1.15" stroke-opacity="1" stroke-linecap="square"/>
<line x1="281.25" y1="437.0" x2="281.25" y2="551.5" stroke="#a2a2a2" stroke-width="1.7"/>
<line x1="283.45" y1="552.8" x2="514.75" y2="552.8" stroke="#a2a2a2" stroke-width="1.5"/>
<line x1="279.65" y1="551.5" x2="281.25" y2="551.5" stroke="#a2a2a2" stroke-width="0.8"/>
<text x="279.25" y="553.4" font-family='"Liberation Serif", serif' font-size="4.2" font-weight="bold" text-anchor="end" fill="#555" >0</text>
<line x1="279.65" y1="540.13" x2="281.25" y2="540.13" stroke="#a2a2a2" stroke-width="0.8"/>
<text x="279.25" y="542.03" font-family='"Liberation Serif", serif' font-size="4.2" font-weight="bold" text-anchor="end" fill="#555" >0.1</text>
<line x1="279.65" y1="528.76" x2="281.25" y2="528.76" stroke="#a2a2a2" stroke-width="0.8"/>
<text x="279.25" y="530.66" font-family='"Liberation Serif", serif' font-size="4.2" font-weight="bold" text-anchor="end" fill="#555" >0.2</text>
<line x1="279.65" y1="517.39" x2="281.25" y2="517.39" stroke="#a2a2a2" stroke-width="0.8"/>
<text x="279.25" y="519.29" font-family='"Liberation Serif", serif' font-size="4.2" font-weight="bold" text-anchor="end" fill="#555" >0.3</text>
<line x1="279.65" y1="506.02" x2="281.25" y2="506.02" stroke="#a2a2a2" stroke-width="0.8"/>
<text x="279.25" y="507.91999999999996" font-family='"Liberation Serif", serif' font-size="4.2" font-weight="bold" text-anchor="end" fill="#555" >0.4</text>
<line x1="279.65" y1="494.65" x2="281.25" y2="494.65" stroke="#a2a2a2" stroke-width="0.8"/>
<text x="279.25" y="496.54999999999995" font-family='"Liberation Serif", serif' font-size="4.2" font-weight="bold" text-anchor="end" fill="#555" >0.5</text>
<line x1="279.65" y1="483.28000000000003" x2="281.25" y2="483.28000000000003" stroke="#a2a2a2" stroke-width="0.8"/>
<text x="279.25" y="485.18" font-family='"Liberation Serif", serif' font-size="4.2" font-weight="bold" text-anchor="end" fill="#555" >0.6</text>
<line x1="279.65" y1="471.91" x2="281.25" y2="471.91" stroke="#a2a2a2" stroke-width="0.8"/>
<text x="279.25" y="473.81" font-family='"Liberation Serif", serif' font-size="4.2" font-weight="bold" text-anchor="end" fill="#555" >0.7</text>
<line x1="279.65" y1="460.54" x2="281.25" y2="460.54" stroke="#a2a2a2" stroke-width="0.8"/>
<text x="279.25" y="462.44" font-family='"Liberation Serif", serif' font-size="4.2" font-weight="bold" text-anchor="end" fill="#555" >0.8</text>
<line x1="279.65" y1="449.17" x2="281.25" y2="449.17" stroke="#a2a2a2" stroke-width="0.8"/>
<text x="279.25" y="451.07" font-family='"Liberation Serif", serif' font-size="4.2" font-weight="bold" text-anchor="end" fill="#555" >0.9</text>
<line x1="279.65" y1="437.8" x2="281.25" y2="437.8" stroke="#a2a2a2" stroke-width="0.8"/>
<text x="279.25" y="439.7" font-family='"Liberation Serif", serif' font-size="4.2" font-weight="bold" text-anchor="end" fill="#555" >1.0</text>
<line x1="283.75" y1="552.8" x2="283.75" y2="554.1999999999999" stroke="#a2a2a2" stroke-width="0.8"/>
<text x="283.75" y="557.9" font-family='"Liberation Serif", serif' font-size="4.2" font-weight="bold" text-anchor="middle" fill="#555" >0</text>
<line x1="303.0" y1="552.8" x2="303.0" y2="554.1999999999999" stroke="#a2a2a2" stroke-width="0.8"/>
<text x="303.0" y="557.9" font-family='"Liberation Serif", serif' font-size="4.2" font-weight="bold" text-anchor="middle" fill="#555" >6</text>
<line x1="322.25" y1="552.8" x2="322.25" y2="554.1999999999999" stroke="#a2a2a2" stroke-width="0.8"/>
<text x="322.25" y="557.9" font-family='"Liberation Serif", serif' font-size="4.2" font-weight="bold" text-anchor="middle" fill="#555" >12</text>
<line x1="341.5" y1="552.8" x2="341.5" y2="554.1999999999999" stroke="#a2a2a2" stroke-width="0.8"/>
<text x="341.5" y="557.9" font-family='"Liberation Serif", serif' font-size="4.2" font-weight="bold" text-anchor="middle" fill="#555" >18</text>
<line x1="360.75" y1="552.8" x2="360.75" y2="554.1999999999999" stroke="#a2a2a2" stroke-width="0.8"/>
<text x="360.75" y="557.9" font-family='"Liberation Serif", serif' font-size="4.2" font-weight="bold" text-anchor="middle" fill="#555" >24</text>
<line x1="380.0" y1="552.8" x2="380.0" y2="554.1999999999999" stroke="#a2a2a2" stroke-width="0.8"/>
<text x="380.0" y="557.9" font-family='"Liberation Serif", serif' font-size="4.2" font-weight="bold" text-anchor="middle" fill="#555" >30</text>
<line x1="399.25" y1="552.8" x2="399.25" y2="554.1999999999999" stroke="#a2a2a2" stroke-width="0.8"/>
<text x="399.25" y="557.9" font-family='"Liberation Serif", serif' font-size="4.2" font-weight="bold" text-anchor="middle" fill="#555" >36</text>
<line x1="418.5" y1="552.8" x2="418.5" y2="554.1999999999999" stroke="#a2a2a2" stroke-width="0.8"/>
<text x="418.5" y="557.9" font-family='"Liberation Serif", serif' font-size="4.2" font-weight="bold" text-anchor="middle" fill="#555" >42</text>
<line x1="437.75" y1="552.8" x2="437.75" y2="554.1999999999999" stroke="#a2a2a2" stroke-width="0.8"/>
<text x="437.75" y="557.9" font-family='"Liberation Serif", serif' font-size="4.2" font-weight="bold" text-anchor="middle" fill="#555" >48</text>
<line x1="457.0" y1="552.8" x2="457.0" y2="554.1999999999999" stroke="#a2a2a2" stroke-width="0.8"/>
<text x="457.0" y="557.9" font-family='"Liberation Serif", serif' font-size="4.2" font-weight="bold" text-anchor="middle" fill="#555" >54</text>
<line x1="476.25" y1="552.8" x2="476.25" y2="554.1999999999999" stroke="#a2a2a2" stroke-width="0.8"/>
<text x="476.25" y="557.9" font-family='"Liberation Serif", serif' font-size="4.2" font-weight="bold" text-anchor="middle" fill="#555" >60</text>
<line x1="495.5" y1="552.8" x2="495.5" y2="554.1999999999999" stroke="#a2a2a2" stroke-width="0.8"/>
<text x="495.5" y="557.9" font-family='"Liberation Serif", serif' font-size="4.2" font-weight="bold" text-anchor="middle" fill="#555" >66</text>
<line x1="514.75" y1="552.8" x2="514.75" y2="554.1999999999999" stroke="#a2a2a2" stroke-width="0.8"/>
<text x="514.75" y="557.9" font-family='"Liberation Serif", serif' font-size="4.2" font-weight="bold" text-anchor="middle" fill="#555" >72</text>
<text x="401.25" y="563.4" font-family='"Liberation Serif", serif' font-size="4.3" font-weight="bold" text-anchor="middle" fill="#555" >Months</text>
<text x="0" y="0" transform="translate(272.5,487.9) rotate(-90)" font-family='"Liberation Serif", serif' font-size="4.2" font-weight="bold" text-anchor="middle" fill="#555">Probability of transformation</text>
<text x="483.1" y="442.5" font-family='"Liberation Sans", sans-serif' font-size="6.3" font-weight="bold" text-anchor="start" fill="#111" stroke="#111" stroke-width="0.18">Risk (LOO)</text>
<line x1="483.0" y1="443.5" x2="516.3" y2="443.5" stroke="#444" stroke-width="0.9"/>
<rect x="483.1" y="448.75" width="4.6" height="4.3" fill="#e00000"/>
<text x="490.70000000000005" y="453.15" font-family='"Liberation Sans", sans-serif' font-size="6.0" font-weight="normal" text-anchor="start" fill="#222" stroke="#222" stroke-width="0.15">0</text>
<rect x="483.1" y="455.6" width="4.6" height="4.3" fill="#0000d0"/>
<text x="490.70000000000005" y="460.0" font-family='"Liberation Sans", sans-serif' font-size="6.0" font-weight="normal" text-anchor="start" fill="#222" stroke="#222" stroke-width="0.15">1</text>
<rect x="483.1" y="462.5" width="4.6" height="4.3" fill="#2e8b57"/>
<text x="490.70000000000005" y="466.9" font-family='"Liberation Sans", sans-serif' font-size="6.0" font-weight="normal" text-anchor="start" fill="#222" stroke="#222" stroke-width="0.15">2</text>
<rect x="397.2" y="544.2" width="105.60" height="6.40" fill="#fff" stroke="#666" stroke-width="0.7"/>
<text x="398.9" y="549.6" font-family='"Liberation Serif", serif' font-size="4.8" font-weight="bold" text-anchor="start" fill="#333" textLength="18.00" lengthAdjust="spacingAndGlyphs">Log-Rank</text>
<text x="427.0" y="549.6" font-family='"Liberation Serif", serif' font-size="4.8" font-weight="bold" text-anchor="start" fill="#333" textLength="74.30" lengthAdjust="spacingAndGlyphs">Chi-sq (df=2) = 21.23, p-value 0.000023</text>
<text x="259.5" y="425.0" font-family='"Liberation Sans", sans-serif' font-size="11.3" font-weight="bold" text-anchor="start" fill="#000" >E</text>
<path d="M287.00 551.30H335.25 M335.25 549.40H338.50 M338.50 546.90H354.40 M354.40 544.20H389.40 M389.40 540.20H460.60 M460.60 533.00H477.30" fill="none" stroke="#d69090" stroke-width="1.15" stroke-opacity="1" stroke-linecap="square"/>
<path d="M335.25 551.30V549.40 M338.50 549.40V546.90 M354.40 546.90V544.20 M389.40 544.20V540.20 M460.60 540.20V533.00" fill="none" stroke="#b47c7c" stroke-width="1.15" stroke-opacity="1" stroke-linecap="square"/>
<path d="M476.50 523.20H516.00" fill="none" stroke="#d69090" stroke-width="1.15" stroke-opacity="0.55" stroke-linecap="square"/>
<path d="M287.00 551.30H293.50 M293.50 544.40H328.60 M328.60 536.00H338.50 M338.50 526.30H357.50 M357.50 516.10H396.25 M396.25 476.90H431.90" fill="none" stroke="#8a8acc" stroke-width="1.15" stroke-opacity="1" stroke-linecap="square"/>
<path d="M293.50 551.30V544.40 M328.60 544.40V536.00 M338.50 536.00V526.30 M357.50 526.30V516.10 M396.25 516.10V476.90" fill="none" stroke="#7070ac" stroke-width="1.15" stroke-opacity="1" stroke-linecap="square"/>
<path d="M287.00 551.30H296.25 M296.25 544.30H299.40 M299.40 535.90H306.50 M306.50 527.10H312.50 M312.50 518.40H315.40 M315.40 509.40H335.60 M335.60 499.00H338.50 M338.50 488.90H514.00" fill="none" stroke="#93ae94" stroke-width="1.15" stroke-opacity="1" stroke-linecap="square"/>
<path d="M296.25 551.30V544.30 M299.40 544.30V535.90 M306.50 535.90V527.10 M312.50 527.10V518.40 M315.40 518.40V509.40 M335.60 509.40V499.00 M338.50 499.00V488.90" fill="none" stroke="#84a085" stroke-width="1.15" stroke-opacity="1" stroke-linecap="square"/>
</svg>
</body></html>
